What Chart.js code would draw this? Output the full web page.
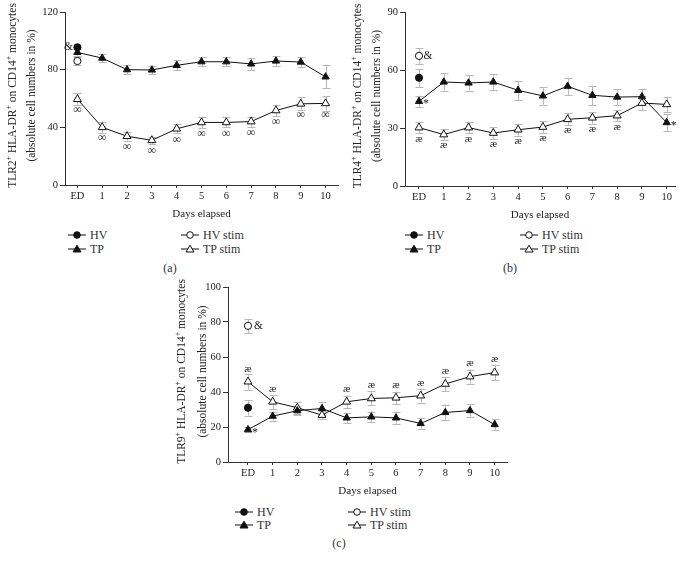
<!DOCTYPE html>
<html><head><meta charset="utf-8">
<script src="https://cdn.jsdelivr.net/npm/chart.js@4.4.1/dist/chart.umd.min.js"></script>
<style>
body{margin:0;background:#fff;width:686px;height:566px;position:relative;overflow:hidden;font-family:"Liberation Serif","Times New Roman",serif;color:#333}
canvas{position:absolute}
.lg{position:absolute;font-size:12px;font-weight:normal;line-height:12px;height:12px;display:flex;align-items:center;white-space:nowrap}
.lg svg{margin-right:3px}
.cap{position:absolute;font-size:12px;line-height:12px;transform:translate(-50%,-50%)}
</style></head><body>
<canvas id="ca" width="345" height="225" style="left:0;top:0"></canvas>
<canvas id="cb" width="341" height="226" style="left:345px;top:0"></canvas>
<canvas id="cc" width="360" height="227" style="left:160px;top:275px"></canvas>
<div id="legends"></div>
<script>
// ---------- data ----------
const dayLabels = ["ED","1","2","3","4","5","6","7","8","9","10"];
const days = [0,1,2,3,4,5,6,7,8,9,10];
const seriesNames = ["HV","TP","HV stim","TP stim"];

// (a) TLR2
const tlr2HV = [95.5];          const tlr2HVErr = [1.5];
const tlr2HVstim = [86];        const tlr2HVstimErr = [3];
const tlr2TP = [92,88,80,79.8,83,85.5,85.5,84,86,85.3,75];
const tlr2TPErr = [2.5,3,3,3,3.5,3,3,4,3.5,3.5,8];
const tlr2TPstim = [59.5,40,33.8,31,39,43.4,43.4,44,51.7,56.3,56.6];
const tlr2TPstimErr = [4,4,3,2.5,3,4,3.5,3.5,4,4.5,5];

// (b) TLR4
const tlr4HV = [56];            const tlr4HVErr = [4.6];
const tlr4HVstim = [67.3];      const tlr4HVstimErr = [4];
const tlr4TP = [43.8,53.8,53.3,53.8,49.5,46.6,51.6,46.9,46,46.2,32.8];
const tlr4TPErr = [3,4.5,4,4,5,4.5,4.5,5,4,4,4.5];
const tlr4TPstim = [30.2,26.6,30.2,27.4,29.1,30.5,34.5,35.3,36.4,42.9,42.2];
const tlr4TPstimErr = [3,3,3,3,3,3,3,3,3,3.5,4];

// (c) TLR9
const tlr9HV = [31];            const tlr9HVErr = [4.5];
const tlr9HVstim = [77.8];      const tlr9HVstimErr = [4];
const tlr9TP = [18.5,26.2,29.3,30.6,25.2,25.8,25.2,22,28.3,29.4,21.4];
const tlr9TPErr = [1.5,2.5,2.5,3.5,3,3,3.5,3,4.5,3.5,3];
const tlr9TPstim = [45.9,34.4,31,26.8,34.4,36.3,36.7,37.9,44.6,48.8,51.1];
const tlr9TPstimErr = [4.5,4,3.5,2.5,3.5,4,3.5,4,4,4,4.5];

// ---------- drawing ----------
const F = '"Liberation Serif","Times New Roman",serif';
const pts = vals => vals.map((v,i)=>({x:days[i], y:v}));

function build(id, o){
  const sets = [
    {label:seriesNames[1], data:pts(o.tp), errs:o.tpErr, borderColor:'#111', backgroundColor:'#111',
     pointBackgroundColor:'#111', pointStyle:'triangle', pointRadius:4.2, borderWidth:1, pointBorderWidth:1},
    {label:seriesNames[3], data:pts(o.tpStim), errs:o.tpStimErr, borderColor:'#111', backgroundColor:'#fff',
     pointBackgroundColor:'#fff', pointStyle:'triangle', pointRadius:4.6, borderWidth:1, pointBorderWidth:1},
    {label:seriesNames[0], data:pts(o.hv), errs:o.hvErr, showLine:false, borderColor:'#111', backgroundColor:'#111',
     pointBackgroundColor:'#111', pointStyle:'circle', pointRadius:3.6, pointBorderWidth:1},
    {label:seriesNames[2], data:pts(o.hvStim), errs:o.hvStimErr, showLine:false, borderColor:'#111', backgroundColor:'#fff',
     pointBackgroundColor:'#fff', pointStyle:'circle', pointRadius:3.6, pointBorderWidth:1},
  ];
  const deco = {
    id:'deco',
    beforeDatasetsDraw(chart){
      const c = chart.ctx, xs = chart.scales.x, ys = chart.scales.y;
      c.save(); c.strokeStyle = '#b8b8b8'; c.lineWidth = 1;
      chart.data.datasets.forEach(ds=>{
        ds.data.forEach((p,i)=>{
          const e = ds.errs[i]; if(!e) return;
          const x = Math.round(xs.getPixelForValue(p.x))+0.5;
          const y1 = ys.getPixelForValue(p.y+e), y2 = ys.getPixelForValue(p.y-e);
          c.beginPath(); c.moveTo(x,y1); c.lineTo(x,y2);
          c.moveTo(x-4,Math.round(y1)+0.5); c.lineTo(x+4,Math.round(y1)+0.5);
          c.moveTo(x-4,Math.round(y2)+0.5); c.lineTo(x+4,Math.round(y2)+0.5);
          c.stroke();
        });
      });
      c.restore();
    },
    afterDatasetsDraw(chart){
      const c = chart.ctx, xs = chart.scales.x, ys = chart.scales.y;
      c.save(); c.fillStyle = '#222'; c.textAlign = 'center'; c.textBaseline = 'middle';
      o.notes.forEach(n=>{
        const ds = chart.data.datasets[n.set];
        c.font = n.size + 'px ' + F;
        n.idx.forEach(i=>{
          const p = ds.data[i];
          c.fillText(n.text, xs.getPixelForValue(p.x)+n.dx, ys.getPixelForValue(p.y)+n.dy);
        });
      });
      // y-axis title (two lines, with superscripts)
      const ca = chart.chartArea, cy = (ca.top+ca.bottom)/2 - 3;
      c.translate(0, cy); c.rotate(-Math.PI/2);
      const segs = o.title1; let w = 0;
      segs.forEach(s=>{ c.font = (s[1]?8:11.5)+'px '+F; w += c.measureText(s[0]).width; });
      let x = -w/2; c.textAlign = 'left';
      segs.forEach(s=>{
        c.font = (s[1]?8:11.5)+'px '+F;
        c.fillText(s[0], x, o.tx1 + (s[1]?-4:0));
        x += c.measureText(s[0]).width;
      });
      c.textAlign = 'center'; c.font = '11.5px '+F;
      c.fillText(o.title2, 0, o.tx2);
      c.restore();
    }
  };
  const axisGrid = len => ({display:true, drawOnChartArea:false, drawTicks:true, tickLength:len, color:'#333', lineWidth:1});
  new Chart(document.getElementById(id), {
    type:'line',
    data:{datasets:sets},
    options:{
      responsive:false, animation:false, devicePixelRatio:1,
      layout:{padding:{top:o.padTop, right:o.padRight, left:0, bottom:0}},
      elements:{line:{tension:0}},
      plugins:{legend:{display:false}, tooltip:{enabled:false}},
      scales:{
        x:{type:'linear', min:o.xMin, max:o.xMax,
           afterBuildTicks:s=>{ s.ticks = days.map(v=>({value:v})); },
           afterFit:s=>{ s.height = o.xH; },
           ticks:{callback:v=>dayLabels[v], font:{family:F,size:10.5}, color:'#222', padding:2, maxRotation:0, autoSkip:false},
           grid:axisGrid(3), border:{display:true,color:'#333',width:1},
           title:{display:true, text:'Days elapsed', font:{family:F,size:11}, color:'#222', padding:{top:0,bottom:4}}},
        y:{min:0, max:o.yMax,
           afterFit:s=>{ s.width = o.yW; },
           ticks:{stepSize:o.yStep, font:{family:F,size:10.5}, color:'#222', padding:2},
           grid:axisGrid(5), border:{display:true,color:'#333',width:1}}
      }
    },
    plugins:[deco]
  });
}

const sup = (name) => [[name,0],["+",1],[" HLA-DR",0],["+",1],[" on CD14",0],["+",1],[" monocytes",0]];
const t2 = "(absolute cell numbers in %)";

build('ca', {tp:tlr2TP,tpErr:tlr2TPErr,tpStim:tlr2TPstim,tpStimErr:tlr2TPstimErr,hv:tlr2HV,hvErr:tlr2HVErr,hvStim:tlr2HVstim,hvStimErr:tlr2HVstimErr,
  yMax:120,yStep:40,xMin:-0.5,xMax:10.5,yW:65,xH:40,padTop:12,padRight:7,
  title1:sup("TLR2"),title2:t2,tx1:13,tx2:32,
  notes:[{set:1,idx:days,text:'\u221E',size:12,dx:0,dy:11},{set:2,idx:[0],text:'&',size:11.5,dx:-9,dy:0}]});

build('cb', {tp:tlr4TP,tpErr:tlr4TPErr,tpStim:tlr4TPstim,tpStimErr:tlr4TPstimErr,hv:tlr4HV,hvErr:tlr4HVErr,hvStim:tlr4HVstim,hvStimErr:tlr4HVstimErr,
  yMax:90,yStep:30,xMin:-0.565,xMax:10.335,yW:60,xH:40,padTop:12,padRight:11,
  title1:sup("TLR4"),title2:t2,tx1:13,tx2:32,
  notes:[{set:1,idx:[0,1,2,3,4,5,6,7,8],text:'\u00E6',size:11,dx:0,dy:11},
         {set:3,idx:[0],text:'&',size:11.5,dx:9,dy:0},
         {set:0,idx:[0,10],text:'*',size:12,dx:7,dy:3}]});

build('cc', {tp:tlr9TP,tpErr:tlr9TPErr,tpStim:tlr9TPstim,tpStimErr:tlr9TPstimErr,hv:tlr9HV,hvErr:tlr9HVErr,hvStim:tlr9HVstim,hvStimErr:tlr9HVstimErr,
  yMax:100,yStep:20,xMin:-0.81,xMax:10.5,yW:68,xH:40,padTop:12,padRight:13,
  title1:sup("TLR9"),title2:t2,tx1:22,tx2:43,
  notes:[{set:1,idx:[0,1,4,5,6,7,8,9,10],text:'\u00E6',size:11,dx:0,dy:-13},
         {set:3,idx:[0],text:'&',size:11.5,dx:10.5,dy:0},
         {set:0,idx:[0],text:'*',size:12,dx:7,dy:3}]});

// ---------- legends & captions ----------
function marker(kind){
  const fill = (kind==='HV'||kind==='TP') ? '#111' : '#fff';
  const shape = kind.startsWith('HV')
    ? `<circle cx="9" cy="5" r="3.3" fill="${fill}" stroke="#111" stroke-width="1"/>`
    : `<polygon points="9,1.2 13,8 5,8" fill="${fill}" stroke="#111" stroke-width="1"/>`;
  return `<svg width="19" height="10"><line x1="0" y1="5" x2="18" y2="5" stroke="#111" stroke-width="1"/>${shape}</svg>`;
}
const legendSpots = [
  {x1:68, x2:181, y1:235, y2:249, cap:'(a)', cx:170, cy:268},
  {x1:405, x2:520, y1:235, y2:249, cap:'(b)', cx:510, cy:268},
  {x1:235, x2:348, y1:512, y2:525, cap:'(c)', cx:339, cy:543},
];
let html = '';
legendSpots.forEach(s=>{
  const pos = [[s.x1,s.y1],[s.x1,s.y2],[s.x2,s.y1],[s.x2,s.y2]];
  seriesNames.forEach((n,i)=>{
    html += `<div class="lg" style="left:${pos[i][0]}px;top:${pos[i][1]-6}px">${marker(n)}<span>${n}</span></div>`;
  });
  html += `<div class="cap" style="left:${s.cx}px;top:${s.cy}px">${s.cap}</div>`;
});
document.getElementById('legends').innerHTML = html;
</script>
</body></html>
